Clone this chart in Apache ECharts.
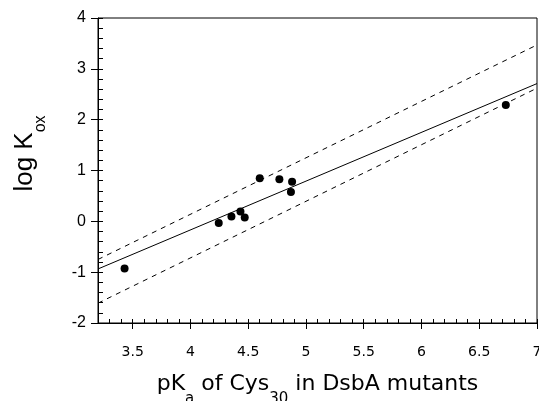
<!DOCTYPE html>
<html><head><meta charset="utf-8">
<script src="https://cdn.jsdelivr.net/npm/echarts@6/dist/echarts.min.js"></script>
<style>html,body{margin:0;padding:0;background:#fff}#c{width:539px;height:401px}</style>
</head><body><div id="c"></div>
<script>
// measured data: pKa of Cys30 vs log Kox
const pKa    = [3.43, 4.245, 4.355, 4.433, 4.47, 4.60, 4.77, 4.88, 4.87, 6.73];
const logKox = [-0.93, -0.035, 0.095, 0.193, 0.075, 0.85, 0.83, 0.78, 0.575, 2.29];
// regression line and confidence bounds (endpoints)
const fitX   = [3.2, 7];
const fitY   = [-0.937, 2.71];
const upperY = [-0.75, 3.47];
const lowerY = [-1.61, 2.62];
// ticks
const xTickLabels = [3.5, 4, 4.5, 5, 5.5, 6, 6.5, 7];
const yTickLabels = [-2, -1, 0, 1, 2, 3, 4];

const chart = echarts.init(document.getElementById('c'), null, {renderer: 'canvas'});
const black = '#000';
const pairs = (xs, ys) => xs.map((x, i) => [x, ys[i]]);

chart.setOption({
  animation: false,
  backgroundColor: '#fff',
  grid: {left: 98, right: 2, top: 18, bottom: 78, show: true, borderColor: black, borderWidth: 1,
         backgroundColor: 'transparent', containLabel: false, outerBoundsMode: 'none'},
  xAxis: [
    {
      type: 'value', min: 3.2, max: 7, position: 'bottom',
      axisLine: {show: true, onZero: false, lineStyle: {color: black, width: 1}},
      axisTick: {show: true, inside: false, length: 6, customValues: xTickLabels, lineStyle: {color: black}},
      axisLabel: {customValues: xTickLabels, margin: 22, color: black, fontFamily: 'DejaVu Sans', fontSize: 14,
                  formatter: v => String(v)},
      splitLine: {show: false},
      name: '{m|pK}{s|a}{m| of Cys}{s|30}{m| in DsbA mutants}',
      nameLocation: 'middle', nameGap: 39,
      nameTextStyle: {
        rich: {
          m: {fontFamily: 'DejaVu Sans', fontSize: 22, color: black},
          s: {fontFamily: 'DejaVu Sans', fontSize: 15, color: black, padding: [30, 0, 0, 0]}
        }
      }
    },
    {
      type: 'value', min: 3.2, max: 7, interval: 0.1, position: 'bottom',
      axisLine: {show: false, onZero: false},
      axisTick: {show: true, inside: true, length: 4, lineStyle: {color: black}},
      axisLabel: {show: false},
      splitLine: {show: false}
    }
  ],
  yAxis: [
    {
      type: 'value', min: -2, max: 4, interval: 1, position: 'left',
      axisLine: {show: true, onZero: false, lineStyle: {color: black, width: 1}},
      axisTick: {show: true, inside: false, length: 7, lineStyle: {color: black}},
      axisLabel: {margin: 12, color: black, fontFamily: 'Liberation Sans', fontSize: 16},
      splitLine: {show: false},
      name: '{m|log K}{s|ox}',
      nameLocation: 'middle', nameGap: 49,
      nameTextStyle: {
        padding: [0, 0, 0, 34],
        rich: {
          m: {fontFamily: 'Liberation Sans', fontSize: 26, color: black},
          s: {fontFamily: 'Liberation Sans', fontSize: 16, color: black, padding: [33, 0, 0, 0]}
        }
      }
    },
    {
      type: 'value', min: -2, max: 4, interval: 0.2, position: 'left',
      axisLine: {show: false, onZero: false},
      axisTick: {show: true, inside: true, length: 5, lineStyle: {color: black}},
      axisLabel: {show: false},
      splitLine: {show: false}
    }
  ],
  series: [
    {
      type: 'line', data: pairs(fitX, fitY), symbol: 'none',
      lineStyle: {color: black, width: 1}, silent: true
    },
    {
      type: 'line', data: pairs(fitX, upperY), symbol: 'none',
      lineStyle: {color: black, width: 1, type: [5, 5]}, silent: true
    },
    {
      type: 'line', data: pairs(fitX, lowerY), symbol: 'none',
      lineStyle: {color: black, width: 1, type: [5, 5]}, silent: true
    },
    {
      type: 'scatter', data: pairs(pKa, logKox), symbol: 'circle', symbolSize: 8,
      itemStyle: {color: black, opacity: 1}
    }
  ]
});
</script>
</body></html>
